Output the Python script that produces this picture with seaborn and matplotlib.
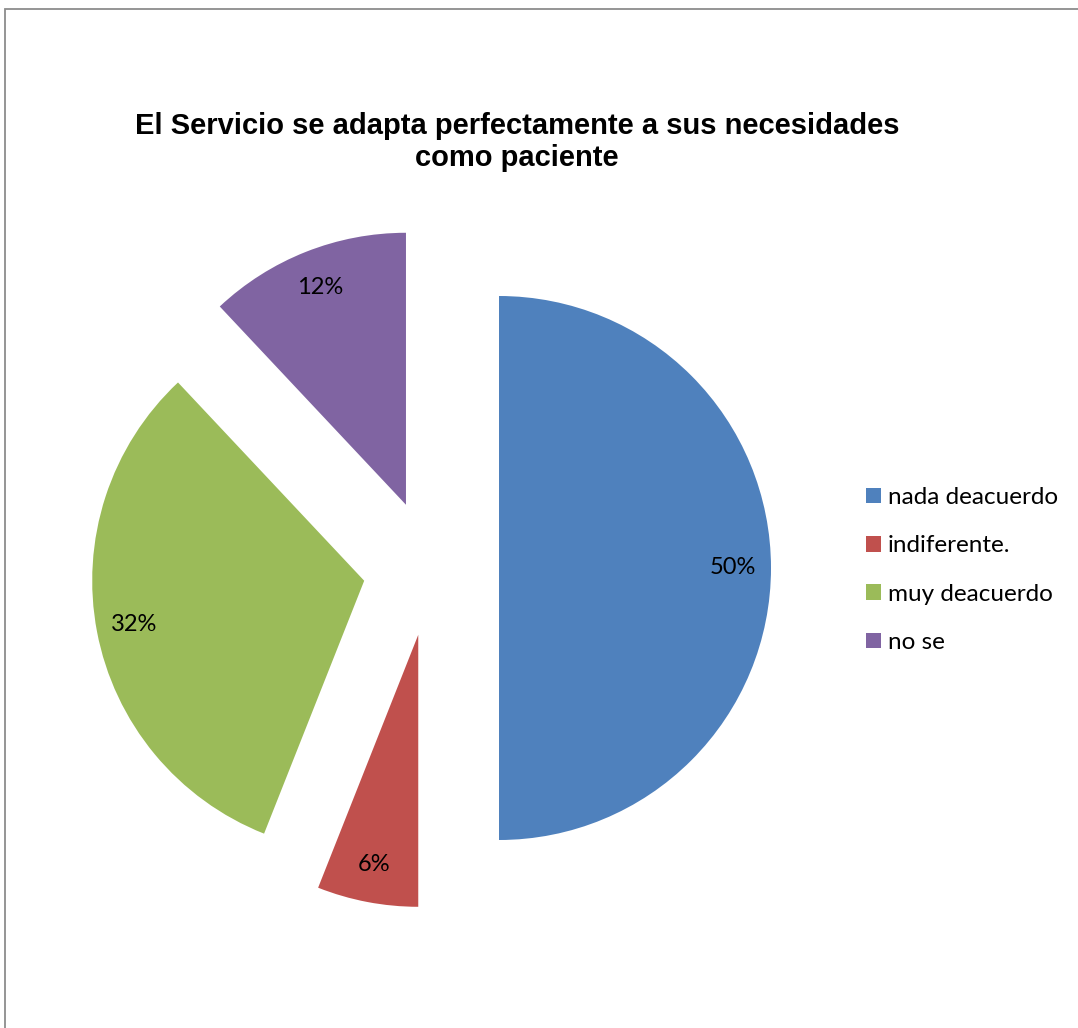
import matplotlib
matplotlib.use("Agg")
import matplotlib.pyplot as plt
from matplotlib.patches import Rectangle, Patch
import seaborn as sns

categories = ["nada deacuerdo", "indiferente.", "muy deacuerdo", "no se"]
shares = [50, 6, 32, 12]
colors = ["#4F81BD", "#C0504D", "#9BBB59", "#8064A2"]
title = "El Servicio se adapta perfectamente a sus necesidades\ncomo paciente"

sns.set_theme(style="white")
plt.rcParams["font.family"] = ["Lato", "DejaVu Sans"]

W, H = 1078, 1028
fig = plt.figure(figsize=(W / 100, H / 100), dpi=100)
fig.patch.set_facecolor("white")

# chart-area frame (left and top edges visible)
fig.add_artist(Rectangle((5 / W, -0.05), 1.2, (H - 9) / H + 0.05,
                         transform=fig.transFigure, fill=False,
                         edgecolor="#8c8c8c", linewidth=1.3))

cx, cy, r = 431, 568, 272
span = 1.5 * r
ax = fig.add_axes([(cx - span) / W, (H - cy - span) / H, 2 * span / W, 2 * span / H])
wedges, texts, autotexts = ax.pie(
    shares, colors=colors, startangle=90, counterclock=False,
    explode=[0.25] * len(shares), autopct="%1.0f%%", pctdistance=0.86,
    textprops=dict(fontsize=17, color="black"),
    wedgeprops=dict(linewidth=0))
ax.set_xlim(-1.5, 1.5)
ax.set_ylim(-1.5, 1.5)
ax.set_axis_off()

fig.text(517 / W, 1 - 142 / H, title, ha="center", va="center",
         fontsize=21, fontweight="bold", family="Liberation Sans",
         color="black", linespacing=1.2)

handles = [Patch(facecolor=c, edgecolor="none") for c in colors]
fig.legend(handles, categories, loc="center left",
           bbox_to_anchor=(866 / W, 1 - 570 / H), frameon=False,
           fontsize=17.5, handlelength=0.6, handleheight=0.6,
           handletextpad=0.3, labelspacing=1.12, borderaxespad=0,
           borderpad=0, labelcolor="black")

fig.savefig("out.png", dpi=100)
